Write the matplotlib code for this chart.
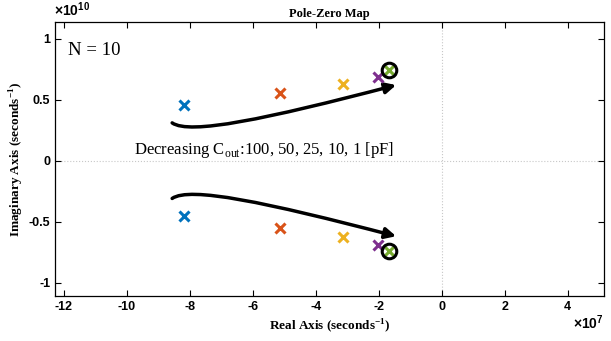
import numpy as np
import matplotlib.pyplot as plt
from matplotlib.path import Path
from matplotlib.patches import FancyArrowPatch

# pole locations (real part in 1e7 s^-1, imaginary part in 1e10 s^-1)
cout_pf = [100, 50, 25, 10, 1]
pole_re = [-8.18, -5.13, -3.12, -2.03, -1.67]
pole_im = [0.457, 0.552, 0.625, 0.690, 0.742]
colors = ['#0072BD', '#D95319', '#EDB120', '#7E2F8E', '#77AC30']
xticks = [-12, -10, -8, -6, -4, -2, 0, 2, 4]
yticks = [-1, -0.5, 0, 0.5, 1]

serif = 'Liberation Serif'
sans = 'Liberation Sans'

fig = plt.figure(figsize=(6.11, 3.41), dpi=100)
ax = fig.add_axes([0.090, 0.132, 0.8985, 0.8026])

ax.axhline(0, color='#c8c8c8', lw=0.8, ls=':', zorder=0)
ax.axvline(0, color='#c8c8c8', lw=0.8, ls=':', zorder=0)

for re, im, c in zip(pole_re, pole_im, colors):
    ax.plot([re, re], [im, -im], 'x', color=c, ms=7, mew=2.2, ls='none')

# highlight smallest Cout pole pair
ax.plot([pole_re[-1]] * 2, [pole_im[-1], -pole_im[-1]], 'o', mfc='none',
        mec='black', ms=10.5, mew=2.2, ls='none')

# trend arrows
for s in (1, -1):
    verts = [(-8.56, s * 0.31), (-8.0, s * 0.21), (-5.6, s * 0.34), (-1.45, s * 0.62)]
    codes = [Path.MOVETO, Path.CURVE4, Path.CURVE4, Path.CURVE4]
    arr = FancyArrowPatch(path=Path(verts, codes), arrowstyle='-|>',
                          mutation_scale=16, lw=2.5, color='black')
    ax.add_patch(arr)

ax.text(-9.77, 0.085, 'Decreasing C$_{\\mathregular{out}}$:' + ', '.join(str(v) for v in cout_pf) + ' [pF]',
        fontsize=12, family=serif, va='center', ha='left')
ax.text(-11.86, 0.905, 'N = 10', fontsize=13.5, family=serif, va='center', ha='left')

ax.set_xlim(-12.28, 5.15)
ax.set_ylim(-1.11, 1.135)
ax.set_xticks(xticks)
ax.set_yticks(yticks)
ax.set_xticklabels([str(v) for v in xticks])
ax.set_yticklabels(['-1', '-0.5', '0', '0.5', '1'])
ax.tick_params(direction='in', top=True, right=True, length=4, width=0.8, labelsize=9)
for lab in ax.get_xticklabels() + ax.get_yticklabels():
    lab.set_family(sans)
    lab.set_fontweight('bold')
for sp in ax.spines.values():
    sp.set_linewidth(0.9)

ax.set_title('Pole-Zero Map', fontsize=9, family=serif, fontweight='bold', pad=4)
ax.set_xlabel('Real Axis (seconds$^{\\mathregular{-1}}$)', fontsize=9.5, family=serif,
              fontweight='bold', labelpad=3)
ax.set_ylabel('Imaginary Axis (seconds$^{\\mathregular{-1}}$)', fontsize=9.5, family=serif,
              fontweight='bold', labelpad=2)

fig.text(0.088, 0.945, '×10$^{\\mathregular{10}}$', fontsize=10, family=sans, fontweight='bold', va='bottom')
fig.text(0.937, 0.025, '×10$^{\\mathregular{7}}$', fontsize=10, family=sans, fontweight='bold', va='bottom')

fig.savefig('out.png', dpi=100)
